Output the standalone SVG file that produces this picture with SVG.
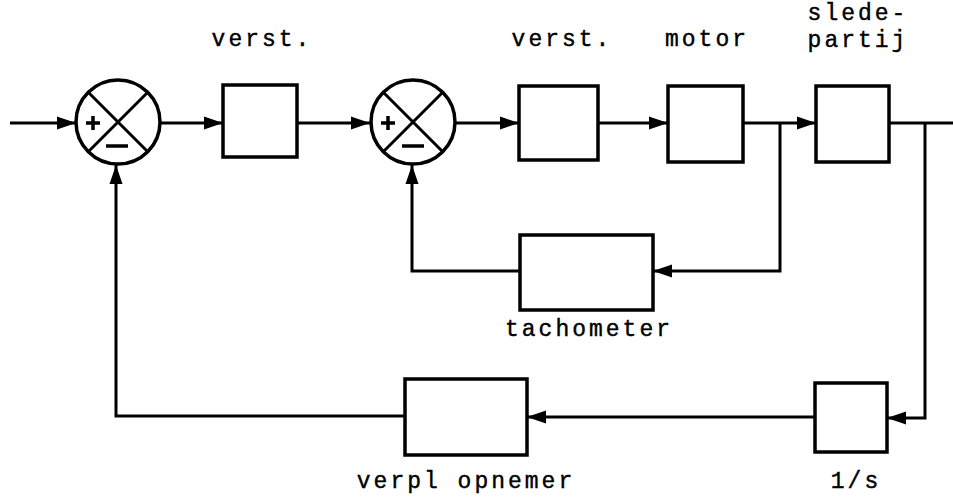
<svg xmlns="http://www.w3.org/2000/svg" width="953" height="500" viewBox="0 0 953 500">
  <style>
    .blk { fill: #fff; stroke: #000; stroke-width: 3.5; }
    .sum { fill: #fff; stroke: #000; stroke-width: 3.5; }
    .x { stroke: #000; stroke-width: 3; fill: none; }
    .wire { fill: none; stroke: #000; stroke-width: 3; marker-end: url(#ah); }
    .plain { fill: none; stroke: #000; stroke-width: 3; }
    .lbl { font-family: "Liberation Mono", "DejaVu Sans Mono", monospace; font-size: 23px; letter-spacing: 3px; fill: #000; stroke: #000; stroke-width: 0.4; text-anchor: middle; }
    .sign { stroke: #000; stroke-width: 3.5; fill: none; }
  </style>
  <defs>
    <marker id="ah" markerUnits="userSpaceOnUse" markerWidth="20" markerHeight="16" refX="19" refY="8" orient="auto">
      <path d="M0,1.5 L19,8 L0,14.5 Z" fill="#000"/>
    </marker>
  </defs>
  <rect width="953" height="500" fill="#fff"/>

  <!-- signal lines -->
  <g id="connectors">
    <path class="wire" d="M10,123 L76,123"/>
    <path class="wire" d="M160,123 L223,123"/>
    <path class="wire" d="M297,123 L370,123"/>
    <path class="wire" d="M456,123 L519,123"/>
    <path class="wire" d="M598,123 L668,123"/>
    <path class="wire" d="M743,123 L816,123"/>
    <path class="plain" d="M889,123 L953,123"/>
    <!-- inner loop via tachometer -->
    <path class="wire" d="M780,123 L780,271 L653,271"/>
    <path class="wire" d="M520,271 L412,271 L412,165"/>
    <!-- outer loop via 1/s and position sensor -->
    <path class="wire" d="M925,123 L925,418 L887,418"/>
    <path class="wire" d="M815,417 L527,417"/>
    <path class="wire" d="M405,416 L116,416 L116,165"/>
  </g>

  <g id="sum1">
    <circle class="sum" cx="118" cy="122" r="42"/>
    <path class="x" d="M88,92 L148,152 M148,92 L88,152"/>
    <path class="sign" d="M86,123 L100,123 M93,116 L93,130"/>
    <path class="sign" d="M106,146 L128,146"/>
  </g>

  <g id="amp1">
    <rect class="blk" x="223" y="85" width="74" height="72"/>
    <text class="lbl" x="262" y="46">verst.</text>
  </g>

  <g id="sum2">
    <circle class="sum" cx="413" cy="122" r="42"/>
    <path class="x" d="M383,92 L443,152 M443,92 L383,152"/>
    <path class="sign" d="M381,123 L395,123 M388,116 L388,130"/>
    <path class="sign" d="M402,146 L424,146"/>
  </g>

  <g id="amp2">
    <rect class="blk" x="519" y="86" width="79" height="74"/>
    <text class="lbl" x="562" y="46">verst.</text>
  </g>

  <g id="motor">
    <rect class="blk" x="668" y="86" width="75" height="76"/>
    <text class="lbl" x="707" y="46">motor</text>
  </g>

  <g id="slide">
    <rect class="blk" x="816" y="86" width="73" height="76"/>
    <text class="lbl" x="858" y="20">slede-</text>
    <text class="lbl" x="858" y="47">partij</text>
  </g>

  <g id="tacho">
    <rect class="blk" x="520" y="235" width="133" height="75"/>
    <text class="lbl" x="589" y="336">tachometer</text>
  </g>

  <g id="integrator">
    <rect class="blk" x="815" y="383" width="72" height="69"/>
    <text class="lbl" x="856" y="488">1/s</text>
  </g>

  <g id="sensor">
    <rect class="blk" x="405" y="379" width="122" height="76"/>
    <text class="lbl" x="466" y="488">verpl opnemer</text>
  </g>
</svg>
